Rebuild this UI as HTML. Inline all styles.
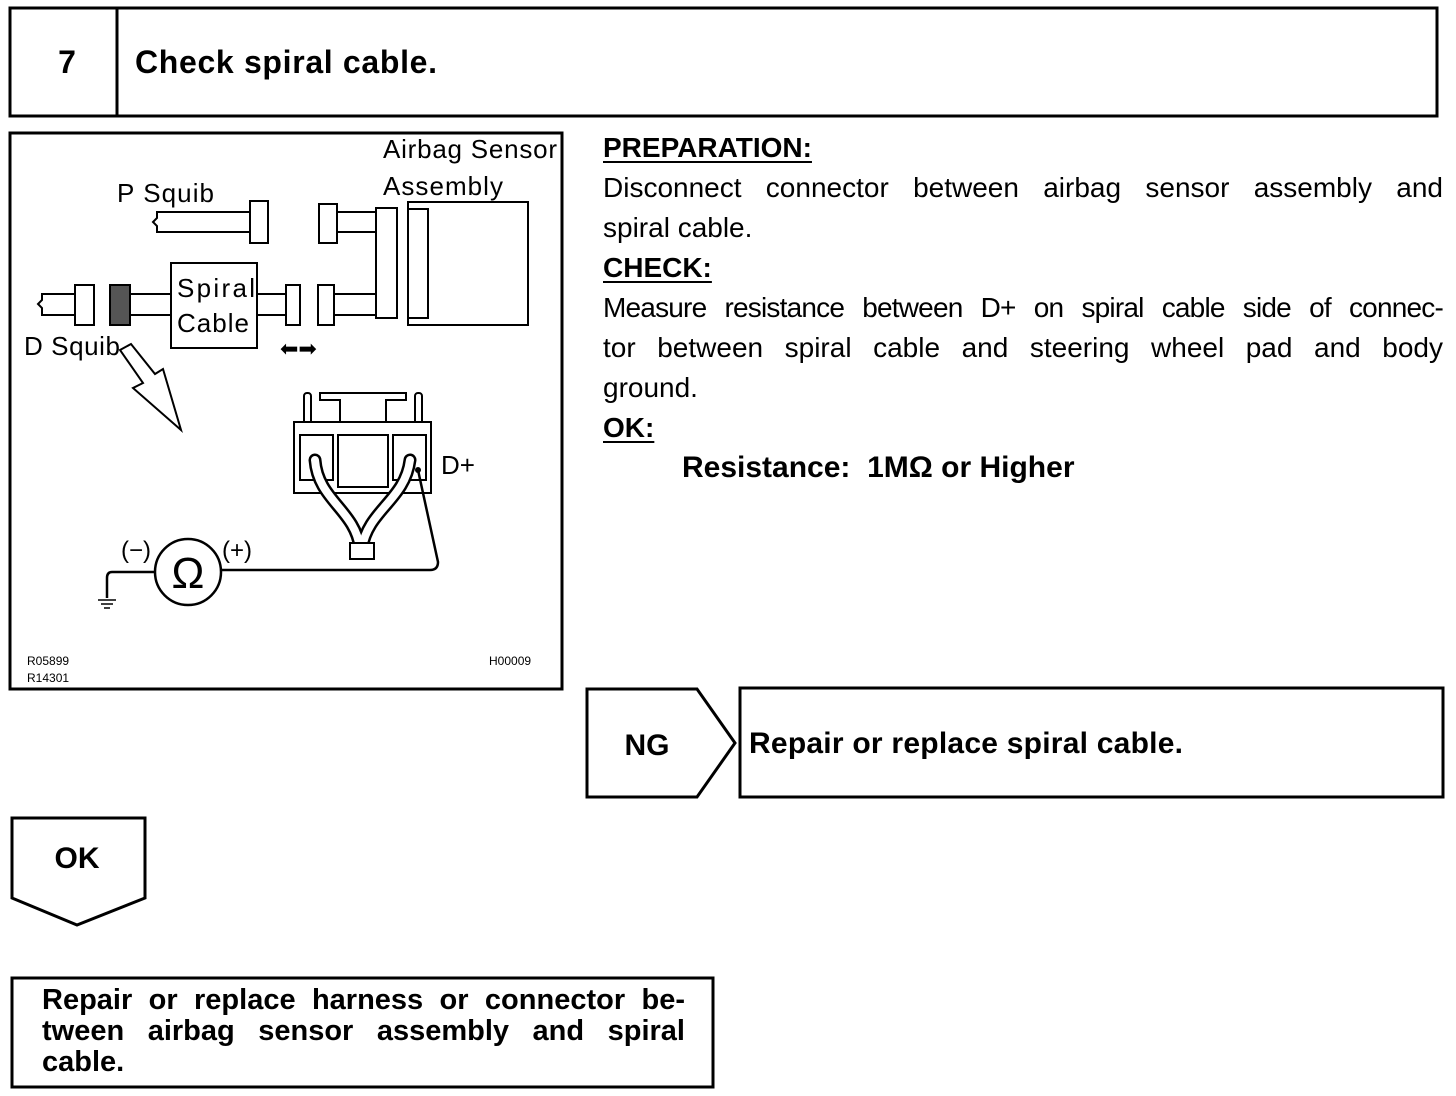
<!DOCTYPE html>
<html><head><meta charset="utf-8"><style>
body{margin:0;width:1456px;height:1096px;background:#fff;position:relative;overflow:hidden;font-family:"Liberation Sans",Arial,sans-serif;color:#000}
.p{position:absolute;font-size:28px;line-height:40px}
.l{text-align:justify;text-align-last:justify;white-space:nowrap}
.b{font-weight:bold}
u{text-decoration:underline;text-underline-offset:4px}
</style></head><body>
<svg width="1456" height="1096" style="position:absolute;left:0;top:0" font-family="Liberation Sans, Arial, sans-serif">
<g fill="none" stroke="#000" stroke-width="3">
<rect x="10" y="8" width="1427" height="108"/>
<line x1="117" y1="8" x2="117" y2="116"/>
<rect x="10" y="133" width="552" height="556"/>
<polygon points="587,689 697,689 735,743 697,797 587,797"/>
<rect x="740" y="688" width="703" height="109"/>
<polygon points="12,818 145,818 145,898 77,925 12,898"/>
<rect x="12" y="978" width="701" height="109"/>
</g>
<text x="67" y="73" font-size="32" font-weight="bold" text-anchor="middle">7</text>
<text x="135" y="73" font-size="32" font-weight="bold" textLength="302">Check spiral cable.</text>
<text x="647" y="755" font-size="30" font-weight="bold" text-anchor="middle">NG</text>
<text x="749" y="753" font-size="30" font-weight="bold" textLength="434">Repair or replace spiral cable.</text>
<text x="77" y="868" font-size="30" font-weight="bold" text-anchor="middle">OK</text>
<g fill="#fff" stroke="#000" stroke-width="2">
<path d="M254 212 H157 V218 L153 222 L157 226 V232 H254"/>
<rect x="250" y="201" width="18" height="42"/>
<rect x="319" y="204" width="18" height="39"/>
<path d="M337 212 H376 M337 232 H376"/>
<rect x="376" y="208" width="21" height="110"/>
<rect x="408" y="202" width="120" height="123"/>
<rect x="408" y="209" width="20" height="109"/>
<path d="M75 294 H42 V300 L38 304 L42 308 V315 H75"/>
<rect x="75" y="285" width="19" height="40"/>
<rect x="110" y="285" width="20" height="40" fill="#555"/>
<path d="M130 294 H171 M130 315 H171 M257 294 H286 M257 315 H286 M334 294 H376 M334 315 H376"/>
<rect x="171" y="263" width="86" height="85"/>
<rect x="286" y="285" width="14" height="40"/>
<rect x="318" y="285" width="16" height="40"/>
<polygon points="120,350 131,344 155,374 163,369 181,430 133,388 143,383"/>
<rect x="304" y="393" width="7" height="37" rx="3"/>
<rect x="415" y="393" width="7" height="37" rx="3"/>
<path d="M320 400 V393 H406 V400 H386 V428 H340 V400 Z"/>
<rect x="294" y="422" width="137" height="71"/>
<rect x="300" y="435" width="33" height="45"/>
<rect x="338" y="435" width="50" height="52"/>
<rect x="393" y="435" width="33" height="45"/>
</g>
<g fill="none" stroke-linecap="round">
<path d="M315 460 C318 500 355 510 360 548 M410 460 C405 500 368 510 362 548" stroke="#000" stroke-width="13"/>
<path d="M315 460 C318 500 355 510 360 548 M410 460 C405 500 368 510 362 548" stroke="#fff" stroke-width="8"/>
</g>
<rect x="350" y="543" width="24" height="16" fill="#fff" stroke="#000" stroke-width="2"/>
<g fill="none" stroke="#000" stroke-width="2.5">
<path d="M418 470 L438 562 Q438 570 430 570 H221"/>
<path d="M155 572 H112 Q107 572 107 578 V598"/>
<path d="M98 600 H116 M101 604 H113 M104 608 H110" stroke-width="1.5"/>
<circle cx="188" cy="572" r="33"/>
</g>
<circle cx="418" cy="470" r="3" fill="#000"/>
<text x="188" y="588" font-size="44" text-anchor="middle">Ω</text>
<g font-size="26">
<text x="383" y="158" textLength="174">Airbag Sensor</text>
<text x="383" y="195" textLength="120">Assembly</text>
<text x="117" y="202" textLength="97">P Squib</text>
<text x="177" y="297" textLength="78">Spiral</text>
<text x="177" y="332" textLength="72">Cable</text>
<text x="24" y="355" textLength="96">D Squib</text>
<text x="441" y="474">D+</text>
<text x="121" y="558" font-size="24">(−)</text>
<text x="222" y="558" font-size="24">(+)</text>
<text x="280" y="356" font-size="22">⬅➡</text>
</g>
<g font-size="12"><text x="27" y="665">R05899</text><text x="27" y="682">R14301</text><text x="489" y="665">H00009</text></g>
</svg>
<div class="p" style="left:603px;top:128px;width:840px">
<div class="b"><u>PREPARATION:</u></div>
<div class="l">Disconnect connector between airbag sensor assembly and</div>
<div>spiral cable.</div>
<div class="b"><u>CHECK:</u></div>
<div class="l" style="letter-spacing:-0.8px">Measure resistance between D+ on spiral cable side of connec-</div>
<div class="l">tor between spiral cable and steering wheel pad and body</div>
<div>ground.</div>
<div class="b"><u>OK:</u></div>
<div class="b" style="padding-left:79px;font-size:30px">Resistance:&nbsp; 1MΩ or Higher</div>
</div>
<div class="p b" style="left:42px;top:985px;width:643px;font-size:29px;line-height:31px">
<div class="l">Repair or replace harness or connector be-</div>
<div class="l">tween airbag sensor assembly and spiral</div>
<div>cable.</div>
</div>
</body></html>
